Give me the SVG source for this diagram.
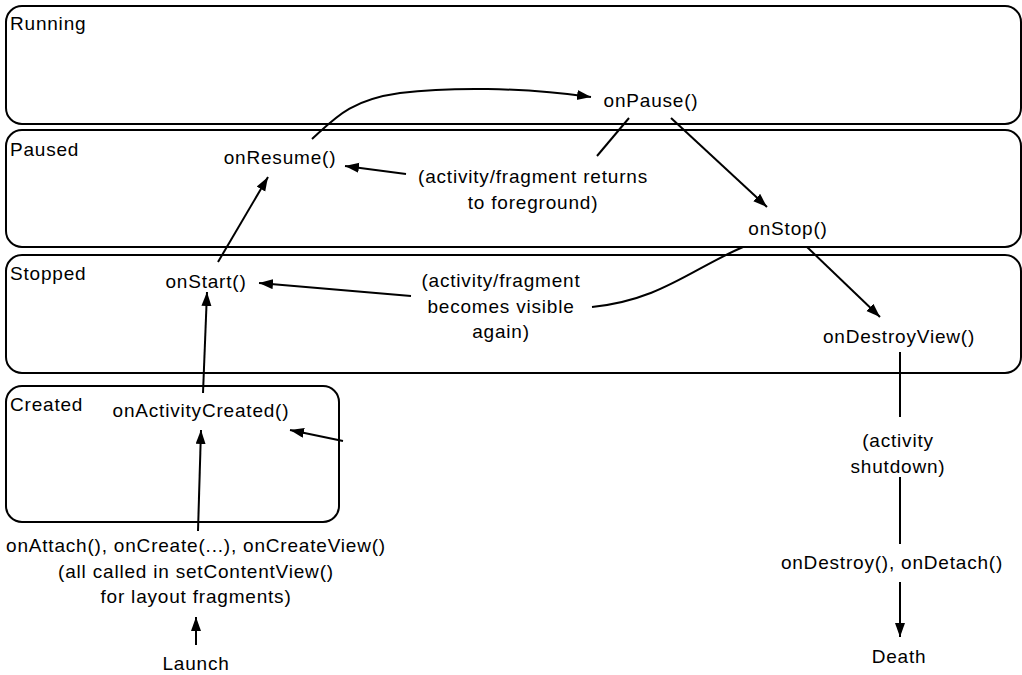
<svg xmlns="http://www.w3.org/2000/svg" width="1022" height="675" viewBox="0 0 1022 675">
<style>
  .box { fill: none; stroke: #000; stroke-width: 2; }
  text { font-family: "Liberation Sans", Arial, Helvetica, sans-serif; font-size: 19px; letter-spacing: 0.8px; fill: #000; }
  .c { text-anchor: middle; }
  .ln { fill: none; stroke: #000; stroke-width: 2; }
  .arr { marker-end: url(#ah); }
</style>
<defs>
  <marker id="ah" markerUnits="userSpaceOnUse" markerWidth="15" markerHeight="11" refX="14" refY="5" orient="auto">
    <path d="M0,0 L14,5 L0,10 z" fill="#000"/>
  </marker>
</defs>
<rect width="1022" height="675" fill="#fff"/>

<g id="state-running">
  <rect class="box" x="6" y="6" width="1015" height="118" rx="16"/>
  <text x="10" y="30">Running</text>
</g>
<g id="state-paused">
  <rect class="box" x="6" y="130" width="1015" height="117" rx="16"/>
  <text x="10" y="156">Paused</text>
</g>
<g id="state-stopped">
  <rect class="box" x="6" y="255" width="1015" height="118" rx="16"/>
  <text x="10" y="280">Stopped</text>
</g>
<g id="state-created">
  <rect class="box" x="6" y="386" width="333" height="136" rx="16"/>
  <text x="10" y="411">Created</text>
</g>

<g id="onPause"><text class="c" x="651" y="107">onPause()</text></g>
<g id="onResume"><text class="c" x="280" y="164">onResume()</text></g>
<g id="onStop"><text class="c" x="788" y="235">onStop()</text></g>
<g id="onStart"><text class="c" x="206" y="288">onStart()</text></g>
<g id="onDestroyView"><text class="c" x="899" y="343">onDestroyView()</text></g>
<g id="onActivityCreated"><text class="c" x="201" y="417">onActivityCreated()</text></g>
<g id="onCreate">
  <text class="c" x="196" y="552">onAttach(), onCreate(...), onCreateView()</text>
  <text class="c" x="196" y="578">(all called in setContentView()</text>
  <text class="c" x="196" y="603">for layout fragments)</text>
</g>
<g id="launch"><text class="c" x="196" y="670">Launch</text></g>
<g id="onDestroy"><text class="c" x="892" y="569">onDestroy(), onDetach()</text></g>
<g id="death"><text class="c" x="899" y="663">Death</text></g>
<g id="label-foreground">
  <text class="c" x="533" y="183">(activity/fragment returns</text>
  <text class="c" x="533" y="209">to foreground)</text>
</g>
<g id="label-visible">
  <text class="c" x="501" y="287">(activity/fragment</text>
  <text class="c" x="501" y="313">becomes visible</text>
  <text class="c" x="501" y="338">again)</text>
</g>
<g id="label-shutdown">
  <text class="c" x="898" y="447">(activity</text>
  <text class="c" x="898" y="473">shutdown)</text>
</g>

<g id="connectors">
  <path class="ln arr" d="M312,139 C335,118 350,100 400,93 C450,87 520,87 591,97"/>
  <path class="ln" d="M597,156 L629,118"/>
  <path class="ln arr" d="M406,174 L345,166"/>
  <path class="ln arr" d="M671,118 L767,207"/>
  <path class="ln arr" d="M807,247 L880,317"/>
  <path class="ln" d="M743,247 C690,270 660,300 592,307"/>
  <path class="ln arr" d="M411,296 L259,283"/>
  <path class="ln arr" d="M218,262 L268,177"/>
  <path class="ln arr" d="M203,393 L207,292"/>
  <path class="ln arr" d="M198,531 L201,430"/>
  <path class="ln arr" d="M343,441 L290,430"/>
  <path class="ln" d="M900,352 L900,417"/>
  <path class="ln" d="M900,477 L900,544"/>
  <path class="ln arr" d="M900,582 L900,637"/>
  <path class="ln arr" d="M196,645 L196,617"/>
</g>
</svg>
